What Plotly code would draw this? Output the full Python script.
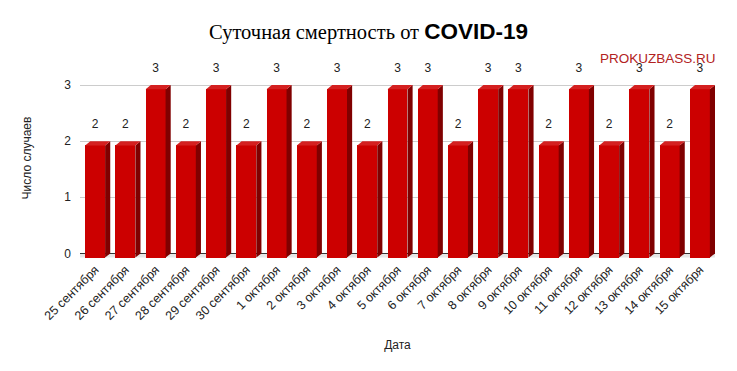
import plotly.graph_objects as go

dates = ["25 сентября", "26 сентября", "27 сентября", "28 сентября", "29 сентября",
         "30 сентября", "1 октября", "2 октября", "3 октября", "4 октября",
         "5 октября", "6 октября", "7 октября", "8 октября", "9 октября",
         "10 октября", "11 октября", "12 октября", "13 октября", "14 октября",
         "15 октября"]
deaths = [2, 2, 3, 2, 3, 2, 3, 2, 3, 2, 3, 3, 2, 3, 3, 2, 3, 2, 3, 2, 3]
y_ticks = [0, 1, 2, 3]

n = len(dates)
idx = list(range(n))
W = 0.66     # front width (category units)
DX = 0.17    # depth, horizontal
DY = 0.075   # depth, vertical

FRONT = "#cc0000"
SIDE = "#800000"
TOP = "#d42020"

fig = go.Figure()

# floor
fig.add_shape(type="rect", xref="x", yref="y", x0=-0.5, x1=n - 0.5, y0=-DY, y1=0,
              fillcolor="#e6e6e6", line_width=0, layer="below")

# front faces
fig.add_trace(go.Bar(x=idx, y=[v for v in deaths], base=-DY, width=W,
                     marker=dict(color=FRONT, line_width=0), hoverinfo="skip"))

# side and top faces
sx, sy, tx, ty = [], [], [], []
for i, v in zip(idx, deaths):
    r = i + W / 2
    l = i - W / 2
    top = v - DY
    sx += [r, r + DX, r + DX, r, r, None]
    sy += [top, v, 0, -DY, top, None]
    tx += [l, r, r + DX, l + DX, l, None]
    ty += [top, top, v, v, top, None]
fig.add_trace(go.Scatter(x=sx, y=sy, fill="toself", fillcolor=SIDE, mode="lines",
                         line=dict(width=0, color=SIDE), hoverinfo="skip"))
fig.add_trace(go.Scatter(x=tx, y=ty, fill="toself", fillcolor=TOP, mode="lines",
                         line=dict(width=0, color=TOP), hoverinfo="skip"))

# value labels
fig.add_trace(go.Scatter(x=idx, y=[v + 0.18 for v in deaths], mode="text",
                         text=[str(v) for v in deaths], textposition="top center",
                         textfont=dict(size=12, color="#222222"), cliponaxis=False,
                         hoverinfo="skip"))

fig.update_layout(
    width=737, height=371,
    margin=dict(l=80, r=22, t=57, b=112, autoexpand=False),
    paper_bgcolor="white", plot_bgcolor="white",
    showlegend=False,
    font=dict(family="Liberation Sans, Arial, sans-serif", size=12, color="#222222"),
    title=dict(
        text="<span style='font-family:Liberation Serif, Times New Roman, serif;font-size:20.5px'>Суточная смертность от </span>"
             "<b>COVID-19</b>",
        x=0.5, xanchor="center", y=0.915, yanchor="middle",
        font=dict(size=22.5, color="#000000", family="Liberation Sans, Arial, sans-serif"),
    ),
    bargap=0,
    xaxis=dict(
        tickmode="array", tickvals=idx, ticktext=dates, tickangle=-45,
        range=[-0.5, n - 0.5], showgrid=False, zeroline=False, showline=False,
        ticks="", tickfont=dict(size=12.5, color="#222222"), automargin=False,
        title=dict(text="Дата", font=dict(size=12, color="#222222"), standoff=18),
    ),
    yaxis=dict(
        tickmode="array", tickvals=y_ticks, ticktext=[str(t) for t in y_ticks],
        range=[-0.1, 3.5], showgrid=True, gridcolor="#cccccc", gridwidth=1,
        zeroline=True, zerolinecolor="#333333", zerolinewidth=1, showline=False,
        ticks="", ticklabelstandoff=8, tickfont=dict(size=12, color="#222222"),
        automargin=False,
        title=dict(text="Число случаев", font=dict(size=12, color="#222222"), standoff=30),
    ),
    annotations=[dict(
        text="PROKUZBASS.RU", xref="paper", yref="paper", x=1.005, y=1.0,
        xanchor="right", yanchor="middle", yshift=-1, showarrow=False,
        font=dict(size=13.5, color="#b22222", family="Liberation Sans, Arial, sans-serif"),
    )],
)

fig.write_html("out.html", config={"displayModeBar": False},
               post_script="document.body.style.margin='0';")
